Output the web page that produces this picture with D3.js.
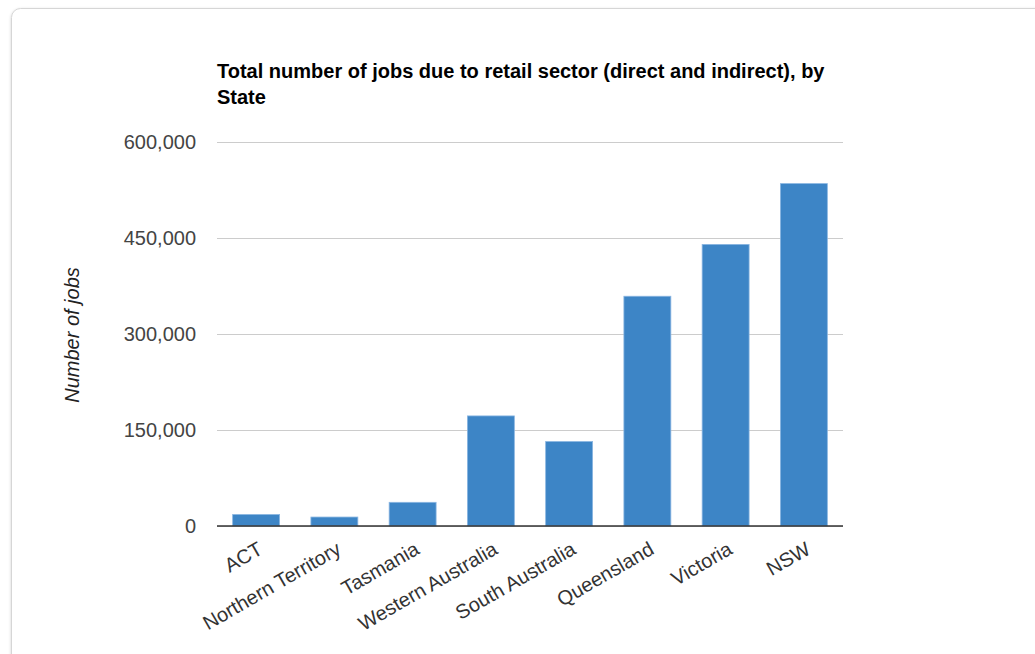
<!DOCTYPE html>
<html>
<head lang="en">
    <meta charset="UTF-8">
    <title>Retail jobs by State</title>
    <script src="https://cdn.jsdelivr.net/npm/d3@7/dist/d3.min.js"></script>
    <style>
        body{margin:0;background:#fff;}
        text{font-family:Arial,"Liberation Sans",sans-serif;}
    </style>
</head>
<body>
</body>
</html>
<script>
    var states=["ACT","Northern Territory","Tasmania","Western Australia","South Australia","Queensland","Victoria","NSW"];
    var jobs=[18000,14000,37000,172000,132000,359000,440000,535000];
    var ticks=[0,150000,300000,450000,600000];
    var titleLines=["Total number of jobs due to retail sector (direct and indirect), by","State"];

    var _svg=d3.select('body')
            .append('svg')
            .attr('width',1035)
            .attr('height',654);

    // card with soft shadow
    var _defs=_svg.append('defs');
    _defs.append('filter')
            .attr('id','shadow')
            .attr('x','-5%').attr('y','-5%').attr('width','110%').attr('height','110%')
            .append('feDropShadow')
            .attr('dx',0).attr('dy',1).attr('stdDeviation',1.5)
            .attr('flood-color','#000').attr('flood-opacity',0.18);
    _svg.append('rect')
            .attr('x',11.5).attr('y',8.5)
            .attr('width',1100).attr('height',720)
            .attr('rx',9)
            .attr('fill','#fff')
            .attr('stroke','#d6d6d6')
            .attr('filter','url(#shadow)');

    var x=d3.scaleBand()
            .domain(states)
            .range([217,843])
            .paddingInner(0.4)
            .paddingOuter(0.2);
    var y=d3.scaleLinear()
            .domain([0,600000])
            .range([526,142]);

    // gridlines + tick labels
    var _yaxis=_svg.append('g')
            .attr('transform','translate(217,0)')
            .call(d3.axisLeft(y).tickValues(ticks).tickSize(-626).tickPadding(21).tickFormat(d3.format(',')));
    _yaxis.select('.domain').remove();
    _yaxis.selectAll('.tick line').attr('stroke','#cccccc');
    _yaxis.selectAll('.tick text')
            .attr('fill','#444')
            .attr('font-size',20);

    // bars
    _svg.selectAll('.bar')
            .data(jobs)
            .enter()
            .append('rect')
            .attr('class','bar')
            .attr('x',function(d,i){ return x(states[i]); })
            .attr('y',function(d){ return y(d); })
            .attr('width',x.bandwidth())
            .attr('height',function(d){ return y(0)-y(d); })
            .attr('fill','#3d85c6')
            .attr('stroke','#8ab6e2')
            .attr('stroke-width',0.8);

    // baseline
    _svg.append('line')
            .attr('x1',217).attr('x2',843)
            .attr('y1',y(0)).attr('y2',y(0))
            .attr('stroke','#333')
            .attr('stroke-width',1.5);

    // category labels
    _svg.selectAll('.xlabel')
            .data(states)
            .enter()
            .append('text')
            .attr('class','xlabel')
            .attr('transform',function(d){
                return 'translate('+(x(d)+x.bandwidth()/2+8)+','+(y(0)+27)+') rotate(-30)';
            })
            .attr('text-anchor','end')
            .attr('font-size',20)
            .attr('fill','#333')
            .text(function(d){ return d; });

    // title
    _svg.selectAll('.title')
            .data(titleLines)
            .enter()
            .append('text')
            .attr('class','title')
            .attr('x',217)
            .attr('y',function(d,i){ return 78+i*26; })
            .attr('font-size',20)
            .attr('font-weight','bold')
            .attr('fill','#000')
            .text(function(d){ return d; });

    // y axis title
    _svg.append('text')
            .attr('transform','translate(79,335) rotate(-90)')
            .attr('text-anchor','middle')
            .attr('font-size',20)
            .attr('font-style','italic')
            .attr('fill','#222')
            .text('Number of jobs');
</script>
